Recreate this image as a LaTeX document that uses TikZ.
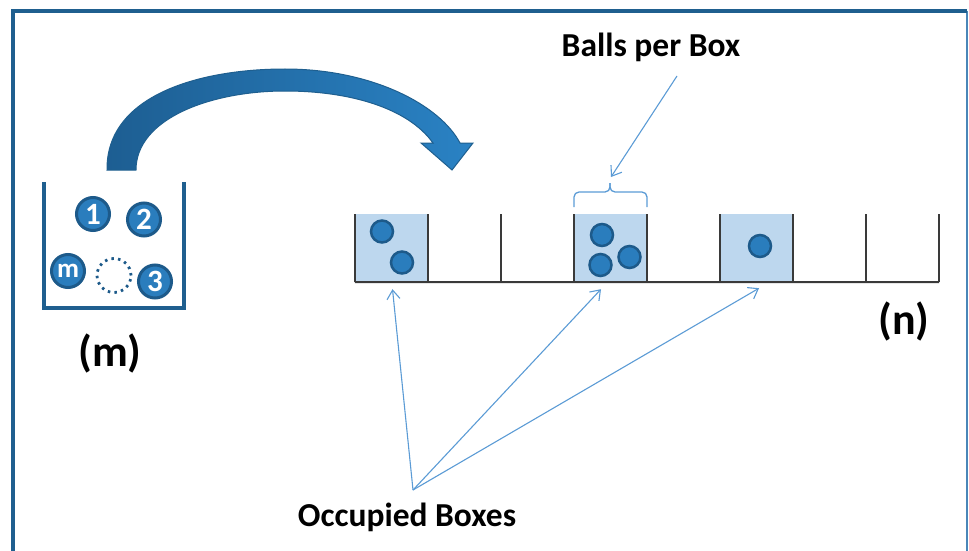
\documentclass[tikz,border=0pt]{standalone}
\usepackage{fontspec}
\setmainfont{Carlito}
\usetikzlibrary{arrows.meta}
\definecolor{frameblue}{HTML}{1F5F8F}
\definecolor{frameside}{HTML}{4A86B8}
\definecolor{ballfill}{HTML}{2A7DBD}
\definecolor{balledge}{HTML}{1D5A8A}
\definecolor{cellfill}{HTML}{BDD7EE}
\definecolor{leader}{HTML}{5B9BD5}
\definecolor{tickgrey}{HTML}{3A3A3A}
\definecolor{arrowdark}{HTML}{1D5E92}
\definecolor{arrowlight}{HTML}{2A82C4}
\tikzset{
  bigball/.style={circle,fill=ballfill,draw=balledge,line width=3pt,inner sep=0pt,
    minimum size=33pt,text=white,font=\bfseries\fontsize{31}{33}\selectfont},
  emptyball/.style={circle,draw=balledge,line width=2.8pt,dash pattern=on 2.5pt off 4.2pt,
    inner sep=0pt,minimum size=34pt},
  smallball/.style={circle,fill=ballfill,draw=balledge,line width=2.5pt,inner sep=0pt,
    minimum size=22pt},
  cell/.style={rectangle,fill=cellfill,draw=none,inner sep=0pt,minimum width=73pt,minimum height=68pt},
  tick/.style={draw=tickgrey,line width=1.4pt},
  leaderline/.style={draw=leader,line width=1.1pt,-{Straight Barb[length=9pt,width=13pt,line width=1.1pt]}},
  label/.style={font=\bfseries\fontsize{33.5}{38}\selectfont},
  biglabel/.style={font=\bfseries\fontsize{44}{50}\selectfont},
}
\begin{document}
\begin{tikzpicture}[x=1pt,y=-1pt]
\useasboundingbox (0,0) rectangle (969,551);
% frame
\draw[frameside,line width=1.6pt] (967,11) -- (967,551);
\draw[frameblue,line width=4pt] (13,551) -- (13,11) -- (967,11);

% basket
\draw[frameblue,line width=4pt] (44,182) -- (44,308) -- (184,308) -- (184,182);
\node[bigball] (b1) at (93,214) {1};
\node[bigball] (b2) at (144,219.5) {2};
\node[bigball,font=\bfseries\fontsize{27}{29}\selectfont] (bm) at (68,271) {m};
\node[emptyball] (be) at (114,275.5) {};
\node[bigball] (b3) at (155,281.5) {3};
\node[biglabel] (mlab) at (110,353) {(m)};

% curved arrow
\path[draw=frameblue,line width=1pt,left color=arrowdark,right color=arrowlight]
  (107,170) .. controls (106,95) and (200,69) .. (285,69)
  .. controls (372,69) and (440,105) .. (460,143)
  -- (473,143) -- (452,170) -- (421,143) -- (433,143)
  .. controls (408,108) and (350,91) .. (285,91)
  .. controls (212,91) and (136,118) .. (136,170) -- cycle;

% cells
\node[cell] (c1) at (391.5,248) {};
\node[cell] (c4) at (610.5,248) {};
\node[cell] (c6) at (756.5,248) {};
\foreach \x in {355,428,501,574,647,720,793,866,939}
  \draw[tick] (\x,214) -- (\x,282);
\draw[tickgrey,line width=2pt] (c1.south west) -- (939,282);

% balls in cells
\node[smallball] (s1) at (382,231.5) {};
\node[smallball] (s2) at (402,262.5) {};
\node[smallball] (s3) at (602,235) {};
\node[smallball] (s4) at (600.5,265) {};
\node[smallball] (s5) at (629.5,257) {};
\node[smallball] (s6) at (760,246) {};

% brace
\draw[leader,line width=1.3pt,rounded corners=5pt]
  (574,207) -- (574,192) -- (610,192) -- (610,183);
\draw[leader,line width=1.3pt,rounded corners=5pt]
  (610,183) -- (610,192) -- (647,192) -- (647,207);
\coordinate (bracetip) at (611,177);

% labels
\node[label] (bpb) at (651,47) {Balls per Box};
\coordinate (bpbfoot) at (677,76);
\draw[leaderline] (bpbfoot) -- (bracetip);

\node[label] (occ) at (407,517) {Occupied Boxes};
\coordinate (occtop) at (413,490);
\draw[leaderline] (occtop) -- ([xshift=1pt,yshift=-7pt]c1.south);
\draw[leaderline] (occtop) -- ([xshift=-9.5pt,yshift=-7pt]c4.south);
\draw[leaderline] (occtop) -- ([xshift=2.5pt,yshift=-6pt]c6.south);

\node[biglabel] (nlab) at (904,321) {(n)};
\end{tikzpicture}
\end{document}
